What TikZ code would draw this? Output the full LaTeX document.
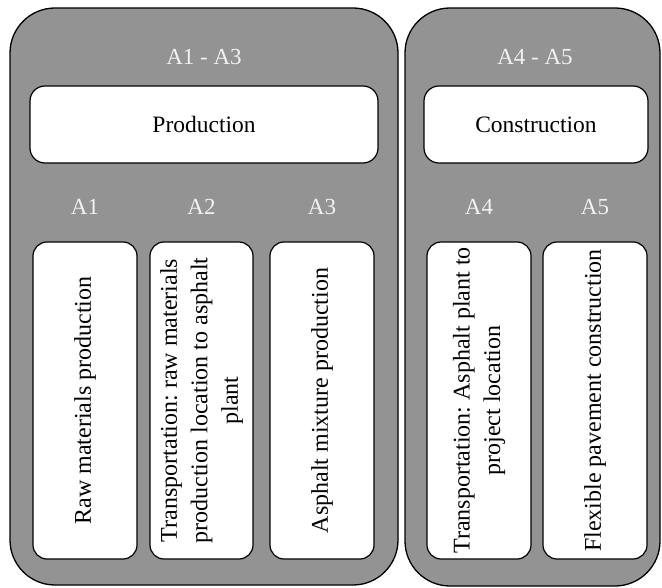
\documentclass[tikz,border=0pt]{standalone}
\usepackage{fontspec}
\setmainfont{Liberation Serif}
\frenchspacing
\definecolor{boxgray}{HTML}{939393}
\definecolor{lblwhite}{HTML}{F2F2F2}
\begin{document}
\begin{tikzpicture}[x=1pt,y=-1pt,
  outerbox/.style={draw=black, line width=1.3pt, fill=boxgray, rounded corners=45pt, inner sep=0pt},
  innerbox/.style={draw=black, line width=1.2pt, fill=white, rounded corners=14pt, inner sep=0pt},
  headbox/.style={draw=black, line width=1.2pt, fill=white, rounded corners=15pt, inner sep=0pt, font=\fontsize{23.5}{27}\selectfont},
  lbl/.style={text=lblwhite, font=\fontsize{23}{27}\selectfont, inner sep=0pt},
  vtext/.style={rotate=90, align=center, font=\fontsize{24}{30.5}\selectfont, inner sep=0pt}
]
\useasboundingbox (0,0) rectangle (662,588);
% outer groups
\node[outerbox, minimum width=388pt, minimum height=577pt] (left) at (204,296.5) {};
\node[outerbox, minimum width=255pt, minimum height=578pt] (right) at (532.5,297) {};
% group labels
\node[lbl] (g13) at (204,57) {A1 - A3};
\node[lbl] (g45) at (535,57) {A4 - A5};
% header boxes
\node[headbox, minimum width=348pt, minimum height=77pt] (prod) at (204,124.5) {Production};
\node[headbox, minimum width=224pt, minimum height=77pt] (cons) at (536,124.5) {Construction};
% stage labels
\node[lbl] (l1) at (85,207) {A1};
\node[lbl] (l2) at (201.5,207) {A2};
\node[lbl] (l3) at (322,207) {A3};
\node[lbl] (l4) at (479,207) {A4};
\node[lbl] (l5) at (595,207) {A5};
% stage boxes
\node[innerbox, minimum width=104pt, minimum height=317pt] (b1) at (85,400.5) {};
\node[innerbox, minimum width=103pt, minimum height=317pt] (b2) at (201.5,400.5) {};
\node[innerbox, minimum width=104pt, minimum height=317pt] (b3) at (322,400.5) {};
\node[innerbox, minimum width=104pt, minimum height=317pt] (b4) at (479,400.5) {};
\node[innerbox, minimum width=104pt, minimum height=317pt] (b5) at (595,400.5) {};
% vertical texts
\node[vtext] (t1) at (b1) {Raw materials production};
\node[vtext] (t2) at (b2) {Transportation: raw materials\\production location to asphalt\\plant};
\node[vtext] (t3) at (b3) {Asphalt mixture production};
\node[vtext] (t4) at (b4) {Transportation: Asphalt plant to\\project location};
\node[vtext] (t5) at (b5) {Flexible pavement construction};
\end{tikzpicture}
\end{document}
